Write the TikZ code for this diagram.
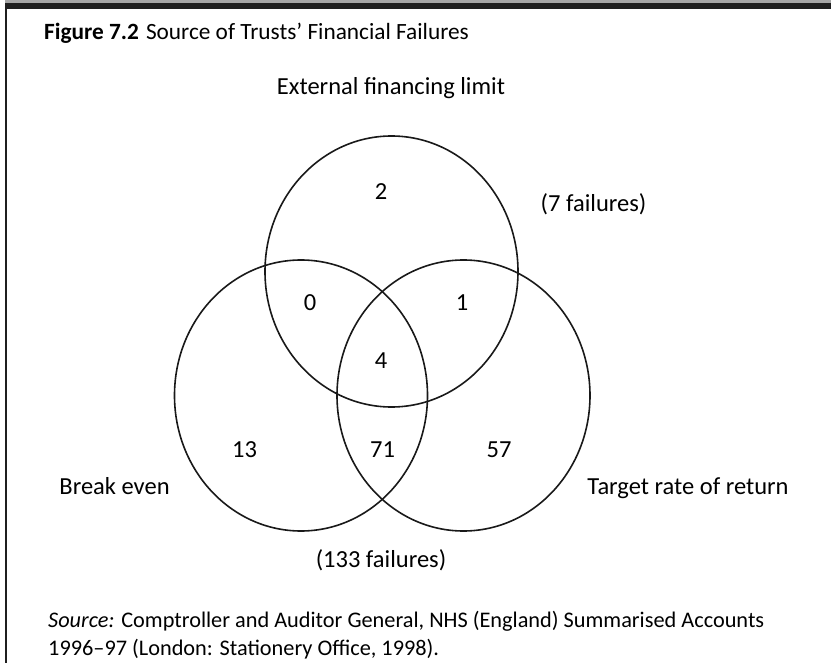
\documentclass[tikz,border=0pt]{standalone}
\usepackage{fontspec}
\setmainfont{Carlito}
\usetikzlibrary{shapes.geometric}
\begin{document}
\begin{tikzpicture}[x=1pt,y=-1pt]
	\tikzset{lbl/.style={inner sep=0pt, anchor=base, font=\fontsize{24.5}{29}\selectfont},
		note/.style={inner sep=0pt, anchor=base west, font=\fontsize{22.3}{27}\selectfont},
		ring/.style={ellipse, draw=black!90, line width=1.6pt, minimum width=253pt, minimum height=271pt, inner sep=0pt}};

	\useasboundingbox (0,0) rectangle (831,663);
	\fill[black!35] (5,0) rectangle (831,3);
	\fill[black!88] (5,3) rectangle (831,9);
	\draw[black!88, line width=1.5pt] (6,3) -- (6,663);

	\node[ring] (ef) at (391.5,271.5) {};
	\node[ring] (be) at (301,395.5) {};
	\node[ring] (tr) at (463.5,395.5) {};

	\node[note, font=\fontsize{23.3}{28}\selectfont] (title) at (44,40) {\textbf{Figure 7.2}\hspace{0.3em}Source of Trusts’ Financial Failures};
	\node[lbl] (eflabel) at (391,95) {External financing limit};
	\node[lbl] (eftotal) at (593.5,212) {(7 failures)};
	\node[lbl] (n2) at (381,199.5) {2};
	\node[lbl] (n0) at (310,311) {0};
	\node[lbl] (n1) at (462,311) {1};
	\node[lbl] (n4) at (381,369) {4};
	\node[lbl] (n13) at (244.5,457) {13};
	\node[lbl] (n71) at (382.5,457) {71};
	\node[lbl] (n57) at (499,457) {57};
	\node[lbl] (belabel) at (114.5,494) {Break even};
	\node[lbl] (trlabel) at (688,494) {Target rate of return};
	\node[lbl] (betotal) at (381,567) {(133 failures)};

	\node[note] (src1) at (48,627) {\textit{Source:} Comptroller and Auditor General, NHS (England) Summarised Accounts};
	\node[note] (src2) at (48,655) {1996–97 (London: Stationery Office, 1998).};
\end{tikzpicture}
\end{document}
